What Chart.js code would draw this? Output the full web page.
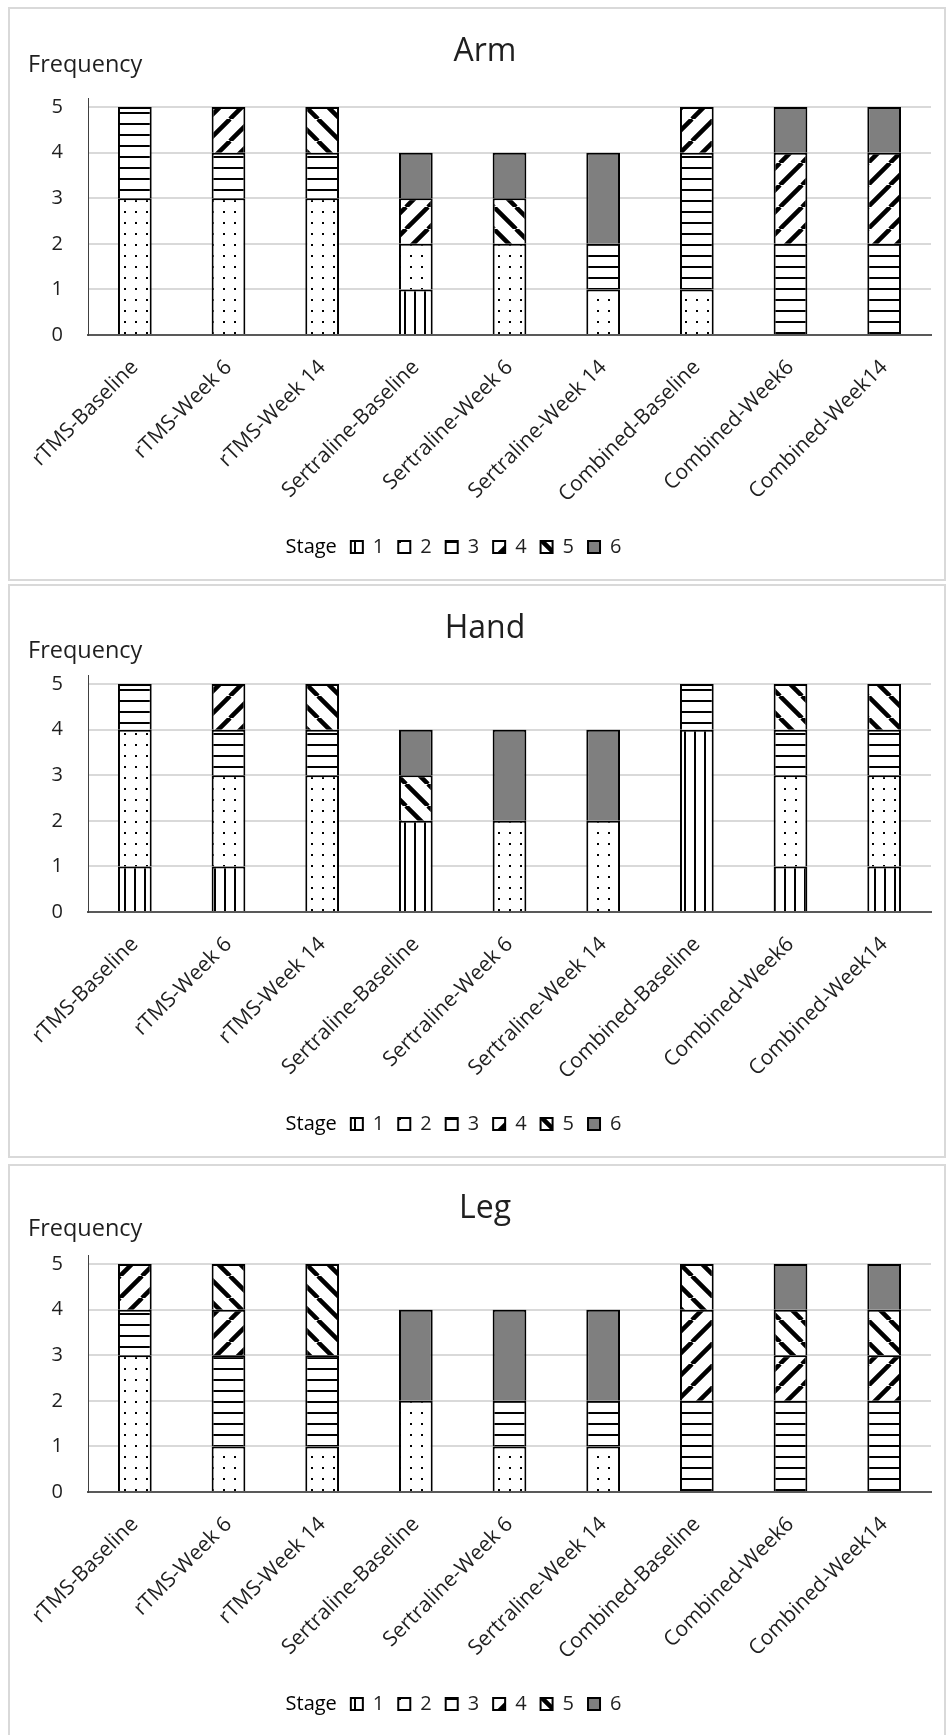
<!DOCTYPE html>
<html>
<head>
<meta charset="utf-8">
<script src="https://cdn.jsdelivr.net/npm/chart.js@4.4.1/dist/chart.umd.min.js"></script>
<style>
  html, body { margin: 0; padding: 0; background: #fff; }
  body { width: 948px; height: 1735px; overflow: hidden; position: relative; }
  .panel { position: absolute; left: 8px; width: 934px; height: 570px; border: 2px solid #d9d9d9; background: #fff; }
  .panel canvas { display: block; }
</style>
</head>
<body>
<div class="panel" style="top:7px"><canvas id="arm" width="934" height="570"></canvas></div>
<div class="panel" style="top:584px"><canvas id="hand" width="934" height="570"></canvas></div>
<div class="panel" style="top:1164px"><canvas id="leg" width="934" height="570"></canvas></div>
<script>
const categories = ['rTMS-Baseline', 'rTMS-Week 6', 'rTMS-Week 14', 'Sertraline-Baseline', 'Sertraline-Week 6',
  'Sertraline-Week 14', 'Combined-Baseline', 'Combined-Week6', 'Combined-Week14']
const stages = ['1', '2', '3', '4', '5', '6']

// Arm
const armStage1 = [0, 0, 0, 1, 0, 0, 0, 0, 0]
const armStage2 = [3, 3, 3, 1, 2, 1, 1, 0, 0]
const armStage3 = [2, 1, 1, 0, 0, 1, 3, 2, 2]
const armStage4 = [0, 1, 0, 1, 0, 0, 1, 2, 2]
const armStage5 = [0, 0, 1, 0, 1, 0, 0, 0, 0]
const armStage6 = [0, 0, 0, 1, 1, 2, 0, 1, 1]

// Hand
const handStage1 = [1, 1, 0, 2, 0, 0, 4, 1, 1]
const handStage2 = [3, 2, 3, 0, 2, 2, 0, 2, 2]
const handStage3 = [1, 1, 1, 0, 0, 0, 1, 1, 1]
const handStage4 = [0, 1, 0, 0, 0, 0, 0, 0, 0]
const handStage5 = [0, 0, 1, 1, 0, 0, 0, 1, 1]
const handStage6 = [0, 0, 0, 1, 2, 2, 0, 0, 0]

// Leg
const legStage1 = [0, 0, 0, 0, 0, 0, 0, 0, 0]
const legStage2 = [3, 1, 1, 2, 1, 1, 0, 0, 0]
const legStage3 = [1, 2, 2, 0, 1, 1, 2, 2, 2]
const legStage4 = [1, 1, 0, 0, 0, 0, 2, 1, 1]
const legStage5 = [0, 1, 2, 0, 0, 0, 1, 1, 1]
const legStage6 = [0, 0, 0, 2, 2, 2, 0, 1, 1]

const textColor = '#1f1f1f'
const font = 'Open Sans'

// ========================= //

const makePattern = kind => {
  const c = document.createElement('canvas')
  const s = kind === 'fwd' || kind === 'back' ? 22 : kind === 'vert' ? 10 : 11
  c.width = s
  c.height = s
  const x = c.getContext('2d')
  x.fillStyle = '#fff'
  x.fillRect(0, 0, s, s)
  x.fillStyle = '#000'
  x.strokeStyle = '#000'
  if (kind === 'vert') x.fillRect(4, 0, 2, s)
  if (kind === 'horiz') x.fillRect(0, 4, s, 2)
  if (kind === 'dots') x.fillRect(4, 4, 2, 2)
  if (kind === 'fwd' || kind === 'back') {
    x.lineWidth = 4.5
    x.beginPath()
    for (const o of [-s, 0, s]) {
      if (kind === 'fwd') { x.moveTo(o, s); x.lineTo(o + s, 0) }
      else { x.moveTo(o, 0); x.lineTo(o + s, s) }
    }
    x.stroke()
  }
  return x.createPattern(c, 'repeat')
}

const fills = [makePattern('vert'), makePattern('dots'), makePattern('horiz'),
  makePattern('fwd'), makePattern('back'), '#7f7f7f']

// title + "Frequency" label
const headerText = {
  id: 'headerText',
  afterDraw(chart, args, opts) {
    const { ctx } = chart
    ctx.save()
    ctx.fillStyle = textColor
    ctx.textBaseline = 'middle'
    ctx.textAlign = 'center'
    ctx.font = `32px "${font}"`
    ctx.fillText(opts.title, 475, 43)
    ctx.textAlign = 'left'
    ctx.font = `23.5px "${font}"`
    ctx.fillText('Frequency', 18, opts.freqY)
    ctx.restore()
  },
}

// nudge the legend row so it sits where the original one does
const legendShift = {
  id: 'legendShift',
  afterLayout(chart, args, opts) {
    chart.legend.left += opts.dx
    chart.legend.right += opts.dx
  },
}

const renderChart = (id, title, freqY, series) => {
  new Chart(document.getElementById(id), {
    type: 'bar',
    data: {
      labels: categories,
      datasets: stages.map((s, i) => ({
        label: s,
        data: series[i],
        backgroundColor: fills[i],
        borderColor: '#000',
        borderWidth: 2,
        barPercentage: 0.36,
        categoryPercentage: 1,
      })),
    },
    options: {
      responsive: false,
      animation: false,
      layout: { padding: { top: 89, right: 13, bottom: 12, left: 0 } },
      scales: {
        x: {
          stacked: true,
          grid: { display: false },
          border: { color: '#595959', width: 2 },
          ticks: {
            autoSkip: false,
            maxRotation: 45,
            minRotation: 45,
            padding: 12,
            color: textColor,
            font: { family: font, size: 21 },
          },
          afterFit: scale => { scale.height = 188 },
        },
        y: {
          stacked: true,
          min: 0,
          max: 5.2,
          ticks: { stepSize: 1, includeBounds: false, padding: 25, color: textColor, font: { family: font, size: 20 } },
          grid: { color: '#d9d9d9', lineWidth: 2, drawTicks: false },
          border: { color: '#404040', width: 1 },
          afterBuildTicks: scale => { scale.ticks = scale.ticks.filter(t => Number.isInteger(t.value)) },
          afterFit: scale => { scale.width = 78 },
        },
      },
      plugins: {
        title: { display: false },
        tooltip: { enabled: false },
        headerText: { title, freqY },
        legendShift: { dx: -28 },
        legend: {
          position: 'bottom',
          onClick: null,
          labels: {
            boxWidth: 12,
            boxHeight: 12,
            padding: 14,
            color: textColor,
            font: { family: font, size: 20 },
            generateLabels: chart => {
              const items = Chart.defaults.plugins.legend.labels.generateLabels(chart)
              return [{ text: 'Stage', fillStyle: 'rgba(0,0,0,0)', strokeStyle: 'rgba(0,0,0,0)', lineWidth: 0, hidden: false, datasetIndex: -1 }, ...items]
            },
          },
        },
      },
    },
    plugins: [headerText, legendShift],
  })
}

renderChart('arm', 'Arm', 56, [armStage1, armStage2, armStage3, armStage4, armStage5, armStage6])
renderChart('hand', 'Hand', 65, [handStage1, handStage2, handStage3, handStage4, handStage5, handStage6])
renderChart('leg', 'Leg', 63, [legStage1, legStage2, legStage3, legStage4, legStage5, legStage6])
</script>
</body>
</html>
